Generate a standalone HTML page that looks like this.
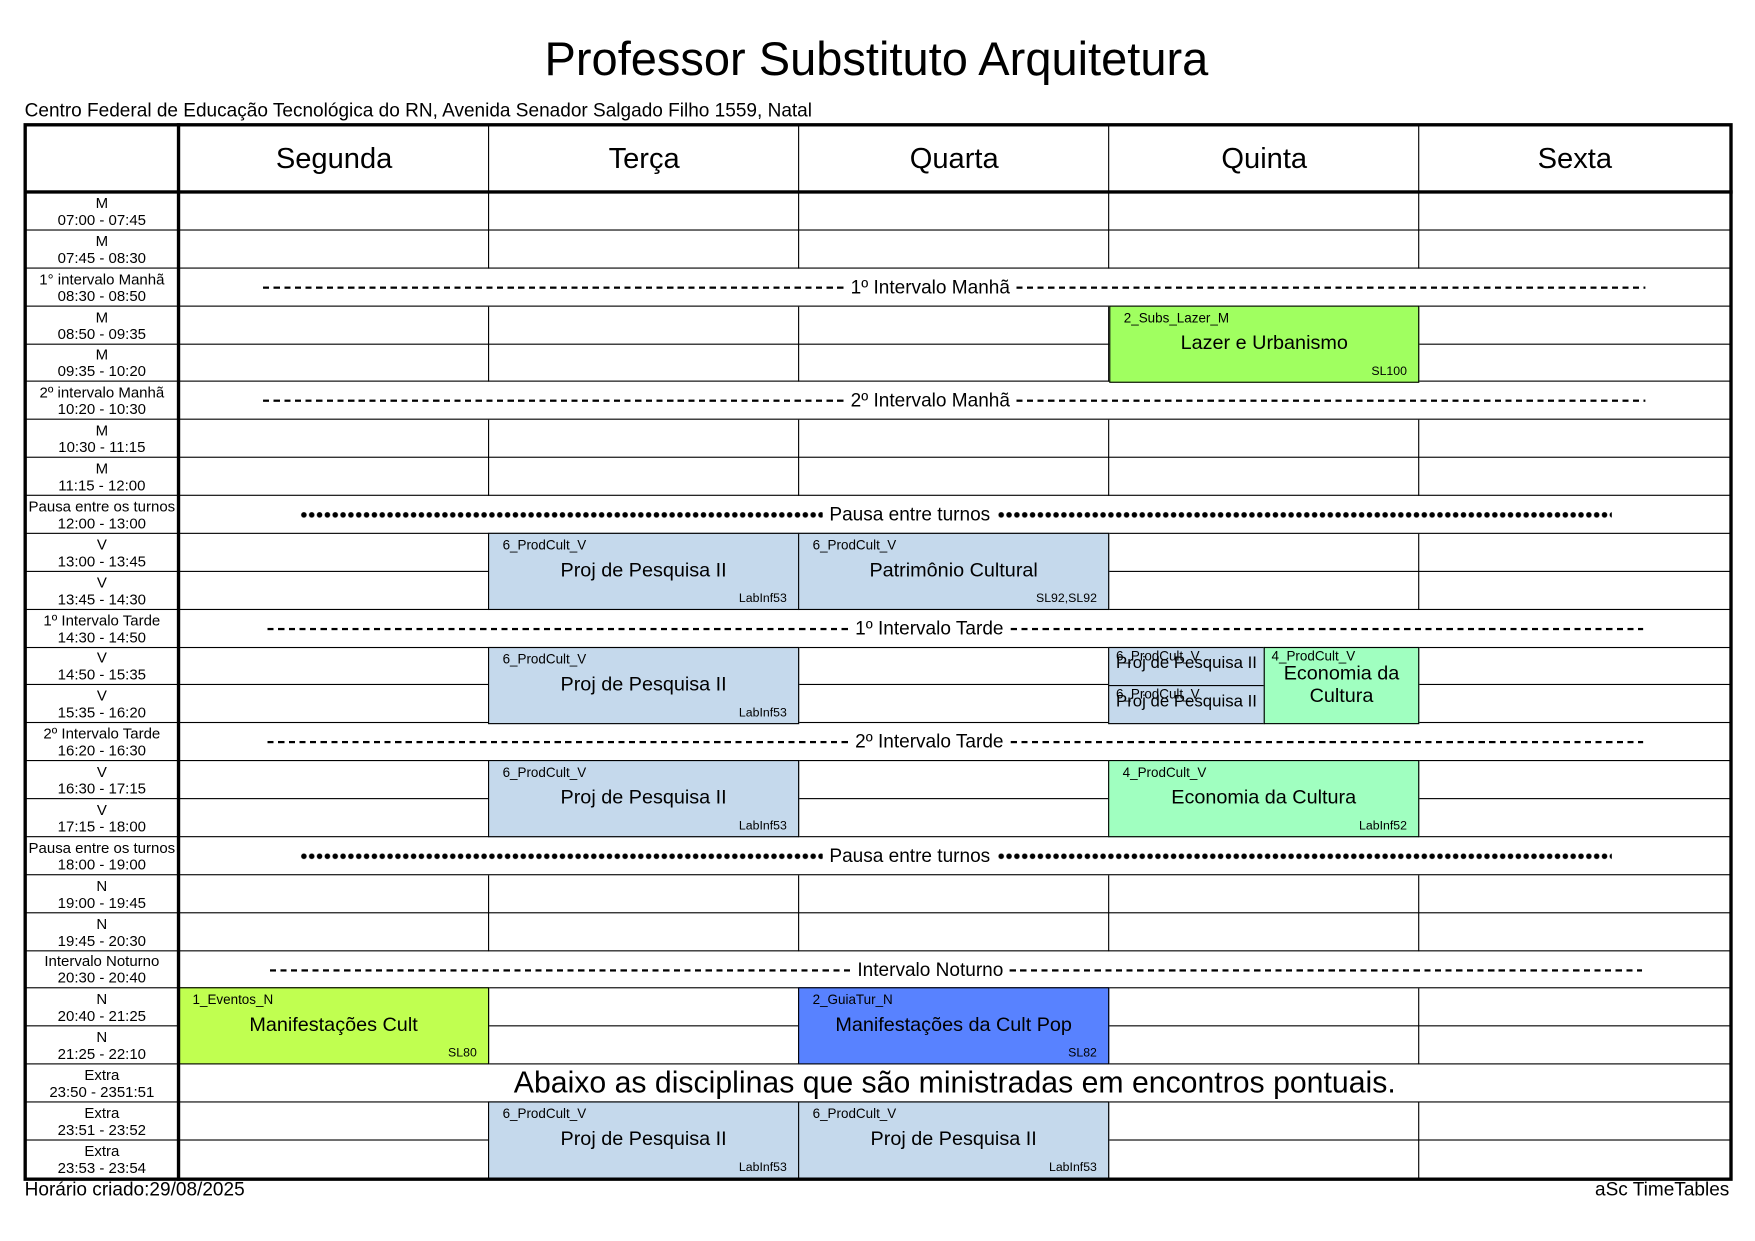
<!DOCTYPE html>
<html><head><meta charset="utf-8">
<style>
*{margin:0;padding:0;box-sizing:border-box}
body{width:1755px;height:1241px;background:#fff;position:relative;font-family:"Liberation Sans",Arial,sans-serif;color:#000;overflow:hidden}
#w{position:absolute;left:0;top:0;width:1568px;height:1109px;transform:scale(1.1193);transform-origin:0 0}
.a{position:absolute}
.h{position:absolute;left:160px;width:1386px;height:0;border-top:1.5px solid #000}
.v{position:absolute;width:0;border-left:1.5px solid #000}
.lab{position:absolute;left:22px;width:138px;font-size:13.4px;line-height:15px;text-align:center;border-bottom:1.5px solid #000;display:flex;flex-direction:column;justify-content:center}
.day{position:absolute;top:111px;height:61px;font-size:26px;text-align:center;line-height:61px}
.blk{position:absolute;border:1.5px solid #000}
.blk .c{position:absolute;left:12px;top:3px;font-size:12px}
.blk .n{position:absolute;left:0;right:0;top:22px;text-align:center;font-size:17.7px}
.blk .r{position:absolute;right:10px;bottom:3px;font-size:11px}
.brk{position:absolute;display:flex;align-items:center;font-size:17px;height:34px;white-space:nowrap}
.dash{flex:1;height:1.2px;background:repeating-linear-gradient(90deg,#000 0 5.5px,transparent 5.5px 9.5px)}
.dot{flex:1;height:6px;background:radial-gradient(circle,#000 2.2px,transparent 2.7px);background-size:7px 6px}
.L{flex:none;width:519px}
.brk span{padding:0 6px}
</style></head><body><div id="w">
<div class="a" style="left:0;width:1566px;top:29px;text-align:center;font-size:42px">Professor Substituto Arquitetura</div>
<div class="a" style="left:22px;top:89px;font-size:17px">Centro Federal de Educação Tecnológica do RN, Avenida Senador Salgado Filho 1559, Natal</div>

<div class="day" style="left:160px;width:277px">Segunda</div>
<div class="day" style="left:437px;width:277px">Terça</div>
<div class="day" style="left:714px;width:277px">Quarta</div>
<div class="day" style="left:991px;width:277px">Quinta</div>
<div class="day" style="left:1268px;width:278px">Sexta</div>

<div class="lab" style="top:172px;height:34px">M<br>07:00 - 07:45</div>
<div class="lab" style="top:206px;height:34px">M<br>07:45 - 08:30</div>
<div class="lab" style="top:240px;height:34px">1° intervalo Manhã<br>08:30 - 08:50</div>
<div class="lab" style="top:274px;height:34px">M<br>08:50 - 09:35</div>
<div class="lab" style="top:308px;height:33px">M<br>09:35 - 10:20</div>
<div class="lab" style="top:341px;height:34px">2º intervalo Manhã<br>10:20 - 10:30</div>
<div class="lab" style="top:375px;height:34px">M<br>10:30 - 11:15</div>
<div class="lab" style="top:409px;height:34px">M<br>11:15 - 12:00</div>
<div class="lab" style="top:443px;height:34px">Pausa entre os turnos<br>12:00 - 13:00</div>
<div class="lab" style="top:477px;height:34px">V<br>13:00 - 13:45</div>
<div class="lab" style="top:511px;height:34px">V<br>13:45 - 14:30</div>
<div class="lab" style="top:545px;height:34px">1º Intervalo Tarde<br>14:30 - 14:50</div>
<div class="lab" style="top:579px;height:33px">V<br>14:50 - 15:35</div>
<div class="lab" style="top:612px;height:34px">V<br>15:35 - 16:20</div>
<div class="lab" style="top:646px;height:34px">2º Intervalo Tarde<br>16:20 - 16:30</div>
<div class="lab" style="top:680px;height:34px">V<br>16:30 - 17:15</div>
<div class="lab" style="top:714px;height:34px">V<br>17:15 - 18:00</div>
<div class="lab" style="top:748px;height:34px">Pausa entre os turnos<br>18:00 - 19:00</div>
<div class="lab" style="top:782px;height:34px">N<br>19:00 - 19:45</div>
<div class="lab" style="top:816px;height:34px">N<br>19:45 - 20:30</div>
<div class="lab" style="top:850px;height:33px">Intervalo Noturno<br>20:30 - 20:40</div>
<div class="lab" style="top:883px;height:34px">N<br>20:40 - 21:25</div>
<div class="lab" style="top:917px;height:34px">N<br>21:25 - 22:10</div>
<div class="lab" style="top:951px;height:34px">Extra<br>23:50 - 2351:51</div>
<div class="lab" style="top:985px;height:34px">Extra<br>23:51 - 23:52</div>
<div class="lab" style="top:1019px;height:34px;border-bottom:none">Extra<br>23:53 - 23:54</div>

<div class="h" style="top:205px"></div><div class="h" style="top:239px"></div><div class="h" style="top:273px"></div>
<div class="h" style="top:307px"></div><div class="h" style="top:340px"></div><div class="h" style="top:374px"></div>
<div class="h" style="top:408px"></div><div class="h" style="top:442px"></div><div class="h" style="top:476px"></div>
<div class="h" style="top:510px"></div><div class="h" style="top:544px"></div><div class="h" style="top:578px"></div>
<div class="h" style="top:611px"></div><div class="h" style="top:645px"></div><div class="h" style="top:679px"></div>
<div class="h" style="top:713px"></div><div class="h" style="top:747px"></div><div class="h" style="top:781px"></div>
<div class="h" style="top:815px"></div><div class="h" style="top:849px"></div><div class="h" style="top:882px"></div>
<div class="h" style="top:916px"></div><div class="h" style="top:950px"></div><div class="h" style="top:984px"></div>
<div class="h" style="top:1018px"></div>

<div class="v" style="left:436px;top:111px;height:61px"></div><div class="v" style="left:713px;top:111px;height:61px"></div><div class="v" style="left:990px;top:111px;height:61px"></div><div class="v" style="left:1267px;top:111px;height:61px"></div>
<div class="v" style="left:436px;top:172px;height:68px"></div><div class="v" style="left:713px;top:172px;height:68px"></div><div class="v" style="left:990px;top:172px;height:68px"></div><div class="v" style="left:1267px;top:172px;height:68px"></div>
<div class="v" style="left:436px;top:274px;height:67px"></div><div class="v" style="left:713px;top:274px;height:67px"></div><div class="v" style="left:990px;top:274px;height:67px"></div><div class="v" style="left:1267px;top:274px;height:67px"></div>
<div class="v" style="left:436px;top:375px;height:68px"></div><div class="v" style="left:713px;top:375px;height:68px"></div><div class="v" style="left:990px;top:375px;height:68px"></div><div class="v" style="left:1267px;top:375px;height:68px"></div>
<div class="v" style="left:436px;top:477px;height:68px"></div><div class="v" style="left:713px;top:477px;height:68px"></div><div class="v" style="left:990px;top:477px;height:68px"></div><div class="v" style="left:1267px;top:477px;height:68px"></div>
<div class="v" style="left:436px;top:579px;height:67px"></div><div class="v" style="left:713px;top:579px;height:67px"></div><div class="v" style="left:990px;top:579px;height:67px"></div><div class="v" style="left:1267px;top:579px;height:67px"></div>
<div class="v" style="left:436px;top:680px;height:68px"></div><div class="v" style="left:713px;top:680px;height:68px"></div><div class="v" style="left:990px;top:680px;height:68px"></div><div class="v" style="left:1267px;top:680px;height:68px"></div>
<div class="v" style="left:436px;top:782px;height:68px"></div><div class="v" style="left:713px;top:782px;height:68px"></div><div class="v" style="left:990px;top:782px;height:68px"></div><div class="v" style="left:1267px;top:782px;height:68px"></div>
<div class="v" style="left:436px;top:883px;height:68px"></div><div class="v" style="left:713px;top:883px;height:68px"></div><div class="v" style="left:990px;top:883px;height:68px"></div><div class="v" style="left:1267px;top:883px;height:68px"></div>
<div class="v" style="left:436px;top:985px;height:68px"></div><div class="v" style="left:713px;top:985px;height:68px"></div><div class="v" style="left:990px;top:985px;height:68px"></div><div class="v" style="left:1267px;top:985px;height:68px"></div>

<div class="brk" style="left:235px;width:1235px;top:240px"><div class="dash L"></div><span>1º Intervalo Manhã</span><div class="dash"></div></div>
<div class="brk" style="left:235px;width:1235px;top:341px"><div class="dash L"></div><span>2º Intervalo Manhã</span><div class="dash"></div></div>
<div class="brk" style="left:268px;width:1172px;top:443px"><div class="dot L" style="width:467px"></div><span>Pausa entre turnos</span><div class="dot"></div></div>
<div class="brk" style="left:239px;width:1229px;top:545px"><div class="dash L"></div><span>1º Intervalo Tarde</span><div class="dash"></div></div>
<div class="brk" style="left:239px;width:1229px;top:646px"><div class="dash L"></div><span>2º Intervalo Tarde</span><div class="dash"></div></div>
<div class="brk" style="left:268px;width:1172px;top:748px"><div class="dot L" style="width:467px"></div><span>Pausa entre turnos</span><div class="dot"></div></div>
<div class="brk" style="left:241px;width:1226px;top:850px"><div class="dash L"></div><span>Intervalo Noturno</span><div class="dash"></div></div>
<div class="a" style="left:160px;width:1386px;top:952px;text-align:center;font-size:27px">Abaixo as disciplinas que são ministradas em encontros pontuais.</div>

<div class="blk" style="left:991px;top:273px;width:277px;height:69px;background:#a0ff60"><div class="c">2_Subs_Lazer_M</div><div class="n">Lazer e Urbanismo</div><div class="r">SL100</div></div>
<div class="blk" style="left:436px;top:476px;width:278px;height:69px;background:#c5d9ec"><div class="c">6_ProdCult_V</div><div class="n">Proj de Pesquisa II</div><div class="r">LabInf53</div></div>
<div class="blk" style="left:713px;top:476px;width:278px;height:69px;background:#c5d9ec"><div class="c">6_ProdCult_V</div><div class="n">Patrimônio Cultural</div><div class="r">SL92,SL92</div></div>
<div class="blk" style="left:436px;top:578px;width:278px;height:69px;background:#c5d9ec"><div class="c">6_ProdCult_V</div><div class="n">Proj de Pesquisa II</div><div class="r">LabInf53</div></div>
<div class="blk" style="left:990px;top:578px;width:140px;height:35px;background:#c5d9ec"><div class="c" style="left:6px;top:0">6_ProdCult_V</div><div class="n" style="top:5px;font-size:15px">Proj de Pesquisa II</div></div>
<div class="blk" style="left:990px;top:612px;width:140px;height:35px;background:#c5d9ec"><div class="c" style="left:6px;top:0">6_ProdCult_V</div><div class="n" style="top:5px;font-size:15px">Proj de Pesquisa II</div></div>
<div class="blk" style="left:1129px;top:578px;width:139px;height:69px;background:#a0ffc0"><div class="c" style="left:6px;top:0">4_ProdCult_V</div><div class="n" style="top:12px;line-height:20px">Economia da<br>Cultura</div></div>
<div class="blk" style="left:436px;top:679px;width:278px;height:69px;background:#c5d9ec"><div class="c">6_ProdCult_V</div><div class="n">Proj de Pesquisa II</div><div class="r">LabInf53</div></div>
<div class="blk" style="left:990px;top:679px;width:278px;height:69px;background:#a0ffc0"><div class="c">4_ProdCult_V</div><div class="n">Economia da Cultura</div><div class="r">LabInf52</div></div>
<div class="blk" style="left:159px;top:882px;width:278px;height:69px;background:#c0ff50"><div class="c">1_Eventos_N</div><div class="n">Manifestações Cult</div><div class="r">SL80</div></div>
<div class="blk" style="left:713px;top:882px;width:278px;height:69px;background:#5882ff"><div class="c">2_GuiaTur_N</div><div class="n">Manifestações da Cult Pop</div><div class="r">SL82</div></div>
<div class="blk" style="left:436px;top:984px;width:278px;height:69px;background:#c5d9ec"><div class="c">6_ProdCult_V</div><div class="n">Proj de Pesquisa II</div><div class="r">LabInf53</div></div>
<div class="blk" style="left:713px;top:984px;width:278px;height:69px;background:#c5d9ec"><div class="c">6_ProdCult_V</div><div class="n">Proj de Pesquisa II</div><div class="r">LabInf53</div></div>

<div class="a" style="left:21px;top:110px;width:1527px;height:945px;border:3px solid #000"></div>
<div class="a" style="left:158px;top:110px;width:3px;height:945px;background:#000"></div>
<div class="a" style="left:21px;top:170px;width:1527px;height:3px;background:#000"></div>

<div class="a" style="left:22px;top:1053px;font-size:17px">Horário criado:29/08/2025</div>
<div class="a" style="left:1245px;top:1053px;font-size:17px;width:300px;text-align:right">aSc TimeTables</div>
</div></body></html>
